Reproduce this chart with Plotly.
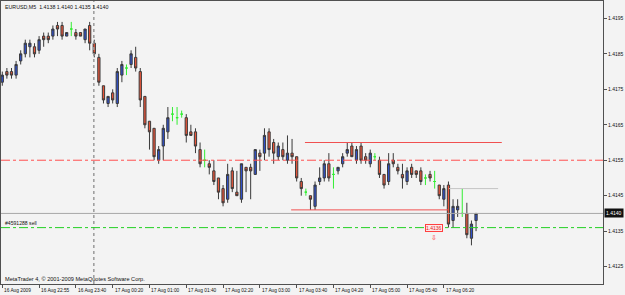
import plotly.graph_objects as go

# ---------------- data (EURUSD M5) ----------------
bar_index = list(range(104))
opens = [1.4177, 1.4180, 1.4180, 1.4179, 1.4183, 1.4185, 1.4187, 1.4187, 1.4186, 1.4190,
         1.4190, 1.4190, 1.4193, 1.4193, 1.4190, 1.4192, 1.4191, 1.4191, 1.4189, 1.4193,
         1.4188, 1.4184, 1.4176, 1.4171, 1.4174, 1.4171, 1.4179, 1.4181, 1.4182, 1.4184,
         1.4180, 1.4173, 1.4166, 1.4164, 1.4155, 1.4159, 1.4163, 1.4168, 1.4167, 1.4168,
         1.4167, 1.4163, 1.4163, 1.4158, 1.4155, 1.4154, 1.4152, 1.4150, 1.4147, 1.4144,
         1.4152, 1.4146, 1.4144, 1.4153, 1.4153, 1.4151, 1.4157, 1.4157, 1.4163, 1.4160,
         1.4156, 1.4158, 1.4155, 1.4157, 1.4156, 1.4149, 1.4146, 1.4145, 1.4142, 1.4149,
         1.4150, 1.4154, 1.4151, 1.4152, 1.4154, 1.4157, 1.4159, 1.4155, 1.4159, 1.4156,
         1.4154, 1.4156, 1.4155, 1.4151, 1.4149, 1.4155, 1.4153, 1.4151, 1.4149, 1.4153,
         1.4152, 1.4152, 1.4150, 1.4151, 1.4149, 1.4148, 1.4144, 1.4148, 1.4138, 1.4141,
         1.4140, 1.4140, 1.4133, 1.4138]
highs = [1.4180, 1.4181, 1.4181, 1.4183, 1.4186, 1.4189, 1.4189, 1.4188, 1.4190, 1.4191,
         1.4191, 1.4193, 1.4194, 1.4194, 1.4191, 1.4194, 1.4192, 1.4191, 1.4192, 1.4194,
         1.4189, 1.4185, 1.4176, 1.4173, 1.4175, 1.4181, 1.4183, 1.4182, 1.4186, 1.4187,
         1.4181, 1.4173, 1.4166, 1.4164, 1.4159, 1.4165, 1.4170, 1.4170, 1.4170, 1.4169,
         1.4168, 1.4165, 1.4164, 1.4160, 1.4158, 1.4155, 1.4155, 1.4150, 1.4148, 1.4154,
         1.4153, 1.4152, 1.4154, 1.4153, 1.4154, 1.4158, 1.4158, 1.4164, 1.4164, 1.4161,
         1.4160, 1.4160, 1.4162, 1.4161, 1.4156, 1.4150, 1.4147, 1.4145, 1.4149, 1.4153,
         1.4155, 1.4157, 1.4153, 1.4153, 1.4157, 1.4160, 1.4160, 1.4159, 1.4160, 1.4157,
         1.4158, 1.4157, 1.4156, 1.4151, 1.4157, 1.4157, 1.4154, 1.4154, 1.4153, 1.4154,
         1.4152, 1.4153, 1.4151, 1.4152, 1.4152, 1.4148, 1.4148, 1.4149, 1.4144, 1.4144,
         1.4147, 1.4143, 1.4138, 1.4140]
lows = [1.4176, 1.4178, 1.4178, 1.4178, 1.4182, 1.4184, 1.4184, 1.4184, 1.4185, 1.4187,
        1.4188, 1.4189, 1.4190, 1.4189, 1.4190, 1.4190, 1.4189, 1.4190, 1.4188, 1.4186,
        1.4184, 1.4176, 1.4171, 1.4170, 1.4171, 1.4170, 1.4177, 1.4179, 1.4181, 1.4180,
        1.4170, 1.4164, 1.4158, 1.4155, 1.4154, 1.4155, 1.4161, 1.4166, 1.4165, 1.4167,
        1.4160, 1.4162, 1.4157, 1.4153, 1.4153, 1.4151, 1.4148, 1.4144, 1.4142, 1.4143,
        1.4146, 1.4145, 1.4143, 1.4146, 1.4144, 1.4151, 1.4152, 1.4155, 1.4156, 1.4154,
        1.4155, 1.4155, 1.4154, 1.4154, 1.4149, 1.4145, 1.4145, 1.4141, 1.4141, 1.4148,
        1.4149, 1.4149, 1.4147, 1.4151, 1.4153, 1.4156, 1.4156, 1.4154, 1.4154, 1.4154,
        1.4153, 1.4155, 1.4150, 1.4147, 1.4148, 1.4153, 1.4151, 1.4147, 1.4148, 1.4150,
        1.4150, 1.4148, 1.4148, 1.4149, 1.4147, 1.4144, 1.4142, 1.4136, 1.4136, 1.4139,
        1.4139, 1.4133, 1.4131, 1.4135]
closes = [1.4179, 1.4179, 1.4179, 1.4182, 1.4185, 1.4188, 1.4188, 1.4185, 1.4189, 1.4189,
          1.4189, 1.4192, 1.4192, 1.4190, 1.4191, 1.4192, 1.4190, 1.4190, 1.4192, 1.4188,
          1.4185, 1.4177, 1.4172, 1.4173, 1.4172, 1.4180, 1.4182, 1.4181, 1.4185, 1.4181,
          1.4172, 1.4165, 1.4163, 1.4156, 1.4158, 1.4164, 1.4167, 1.4168, 1.4167, 1.4168,
          1.4162, 1.4162, 1.4159, 1.4154, 1.4155, 1.4153, 1.4149, 1.4146, 1.4143, 1.4151,
          1.4147, 1.4145, 1.4154, 1.4152, 1.4152, 1.4158, 1.4156, 1.4162, 1.4158, 1.4157,
          1.4159, 1.4156, 1.4157, 1.4156, 1.4150, 1.4147, 1.4146, 1.4144, 1.4148, 1.4150,
          1.4154, 1.4150, 1.4151, 1.4153, 1.4156, 1.4158, 1.4156, 1.4158, 1.4155, 1.4155,
          1.4157, 1.4156, 1.4151, 1.4148, 1.4154, 1.4154, 1.4152, 1.4150, 1.4152, 1.4151,
          1.4151, 1.4149, 1.4150, 1.4150, 1.4149, 1.4145, 1.4147, 1.4137, 1.4142, 1.4142,
          1.4140, 1.4134, 1.4137, 1.4140]

x_tick_bars = [0, 8, 16, 24, 32, 40, 48, 56, 64, 72, 80, 88, 96]
x_tick_labels = ["16 Aug 2009", "16 Aug 22:55", "16 Aug 23:40", "17 Aug 00:20", "17 Aug 01:00",
                 "17 Aug 01:40", "17 Aug 02:20", "17 Aug 03:00", "17 Aug 03:40", "17 Aug 04:20",
                 "17 Aug 05:00", "17 Aug 05:40", "17 Aug 06:20"]
y_tick_values = [1.4125, 1.4135, 1.4145, 1.4155, 1.4165, 1.4175, 1.4185, 1.4195]
y_tick_labels = ["1.4125", "1.4135", "1.4145", "1.4155", "1.4165", "1.4175", "1.4185", "1.4195"]

symbol = "EURUSD,M5"
bid_price = 1.4140
order_price = 1.4136
order_text = "#4591288 sell"
dashed_level = 1.4155
resistance_level, resistance_from, resistance_to = 1.4160, 65.8, 108.6
support_level, support_from, support_to = 1.4141, 62.8, 96.9
grey_level, grey_from, grey_to = 1.4147, 97.1, 107.8
day_separator = 19.9
order_box_bar = 93.85
copyright_text = "MetaTrader 4, \u00a9 2001-2009 MetaQuotes Software Corp."

# ---------------- figure ----------------
BG = "#f3f3f3"
AX = "#505050"
FONT = "Liberation Sans"

doji = [i for i in bar_index if opens[i] == closes[i]]
body = [i for i in bar_index if opens[i] != closes[i]]

def pick(arr, idx):
    return [arr[i] for i in idx]

fig = go.Figure()
fig.add_trace(go.Candlestick(
    x=body, open=pick(opens, body), high=pick(highs, body), low=pick(lows, body), close=pick(closes, body),
    increasing=dict(fillcolor="#3050c8", line=dict(color="#3a3a3a", width=1)),
    decreasing=dict(fillcolor="#e8553a", line=dict(color="#3a3a3a", width=1)),
    whiskerwidth=0, showlegend=False, hoverinfo="skip"))
fig.add_trace(go.Candlestick(
    x=doji, open=pick(opens, doji), high=pick(highs, doji), low=pick(lows, doji), close=pick(closes, doji),
    increasing=dict(fillcolor="#33ee33", line=dict(color="#33ee33", width=1)),
    decreasing=dict(fillcolor="#33ee33", line=dict(color="#33ee33", width=1)),
    whiskerwidth=0, showlegend=False, hoverinfo="skip"))

shapes = [
    dict(type="line", xref="x", yref="paper", x0=day_separator, x1=day_separator, y0=0, y1=1,
         line=dict(color="#9a9a9a", width=1.5, dash="dot")),
    dict(type="line", xref="paper", yref="y", x0=0, x1=1, y0=dashed_level, y1=dashed_level,
         line=dict(color="#ff5050", width=1, dash="dashdot")),
    dict(type="line", xref="paper", yref="y", x0=0, x1=1, y0=bid_price, y1=bid_price,
         line=dict(color="#a8a8a8", width=1)),
    dict(type="line", xref="paper", yref="y", x0=0, x1=1, y0=order_price, y1=order_price,
         line=dict(color="#22d022", width=1, dash="dashdot")),
    dict(type="line", xref="x", yref="y", x0=resistance_from, x1=resistance_to,
         y0=resistance_level, y1=resistance_level, line=dict(color="#f05050", width=1)),
    dict(type="line", xref="x", yref="y", x0=support_from, x1=support_to,
         y0=support_level, y1=support_level, line=dict(color="#f05050", width=1)),
    dict(type="line", xref="x", yref="y", x0=grey_from, x1=grey_to,
         y0=grey_level, y1=grey_level, line=dict(color="#c4c4c4", width=1)),
]

annotations = []
for b, t in zip(x_tick_bars, x_tick_labels):
    annotations.append(dict(x=b, y=0, xref="x", yref="paper", text=t, showarrow=False,
                            xanchor="left", yanchor="top", yshift=-2, xshift=0,
                            font=dict(family=FONT, size=4.8, color="#111")))
o, h, l, c = opens[-1], highs[-1], lows[-1], closes[-1]
annotations += [
    dict(x=0, y=1, xref="paper", yref="paper", xanchor="left", yanchor="top", showarrow=False,
         text=f"{symbol}  {o:.4f} {h:.4f} {l:.4f} {c:.4f}", xshift=2, yshift=-1,
         font=dict(family=FONT, size=5.3, color="#111")),
    dict(x=0, y=0, xref="paper", yref="paper", xanchor="left", yanchor="bottom", showarrow=False,
         text=copyright_text, xshift=2, yshift=0, font=dict(family=FONT, size=5.6, color="#111")),
    dict(x=0, y=order_price, xref="paper", yref="y", xanchor="left", yanchor="bottom", showarrow=False,
         text=order_text, xshift=2, yshift=0, font=dict(family=FONT, size=5.1, color="#111")),
    dict(x=1, y=bid_price, xref="paper", yref="y", xanchor="left", yanchor="middle", showarrow=False,
         text=f"{bid_price:.4f}", xshift=1, bgcolor="#101010", borderpad=1,
         font=dict(family=FONT, size=5, color="#ffffff")),
    dict(x=order_box_bar, y=order_price, xref="x", yref="y", xanchor="center", yanchor="middle",
         showarrow=False, text=f"{order_price:.4f}", bgcolor="#fde8e8", bordercolor="#ff4040",
         borderwidth=1, borderpad=0, font=dict(family=FONT, size=5, color="#e02020")),
    dict(x=order_box_bar, y=order_price, xref="x", yref="y", xanchor="center", yanchor="top",
         showarrow=False, text="\u21e9", yshift=-4, font=dict(family="DejaVu Sans", size=7, color="#ff3030")),
]

fig.update_layout(
    width=625, height=295,
    margin=dict(l=1, r=22, t=1, b=11),
    paper_bgcolor=BG, plot_bgcolor=BG,
    shapes=shapes, annotations=annotations,
    showlegend=False,
    xaxis=dict(range=[-0.28, 130.6], rangeslider=dict(visible=False), showgrid=False, zeroline=False,
               showline=True, mirror=True, linecolor=AX, linewidth=1,
               ticks="outside", ticklen=3, tickcolor=AX, tickvals=x_tick_bars, showticklabels=False),
    yaxis=dict(range=[1.41201, 1.41999], side="right", showgrid=False, zeroline=False,
               showline=True, mirror=True, linecolor=AX, linewidth=1,
               ticks="outside", ticklen=3, tickcolor=AX, tickvals=y_tick_values, ticktext=y_tick_labels,
               tickfont=dict(family=FONT, size=5, color="#111")),
)

fig.write_html("out.html")
